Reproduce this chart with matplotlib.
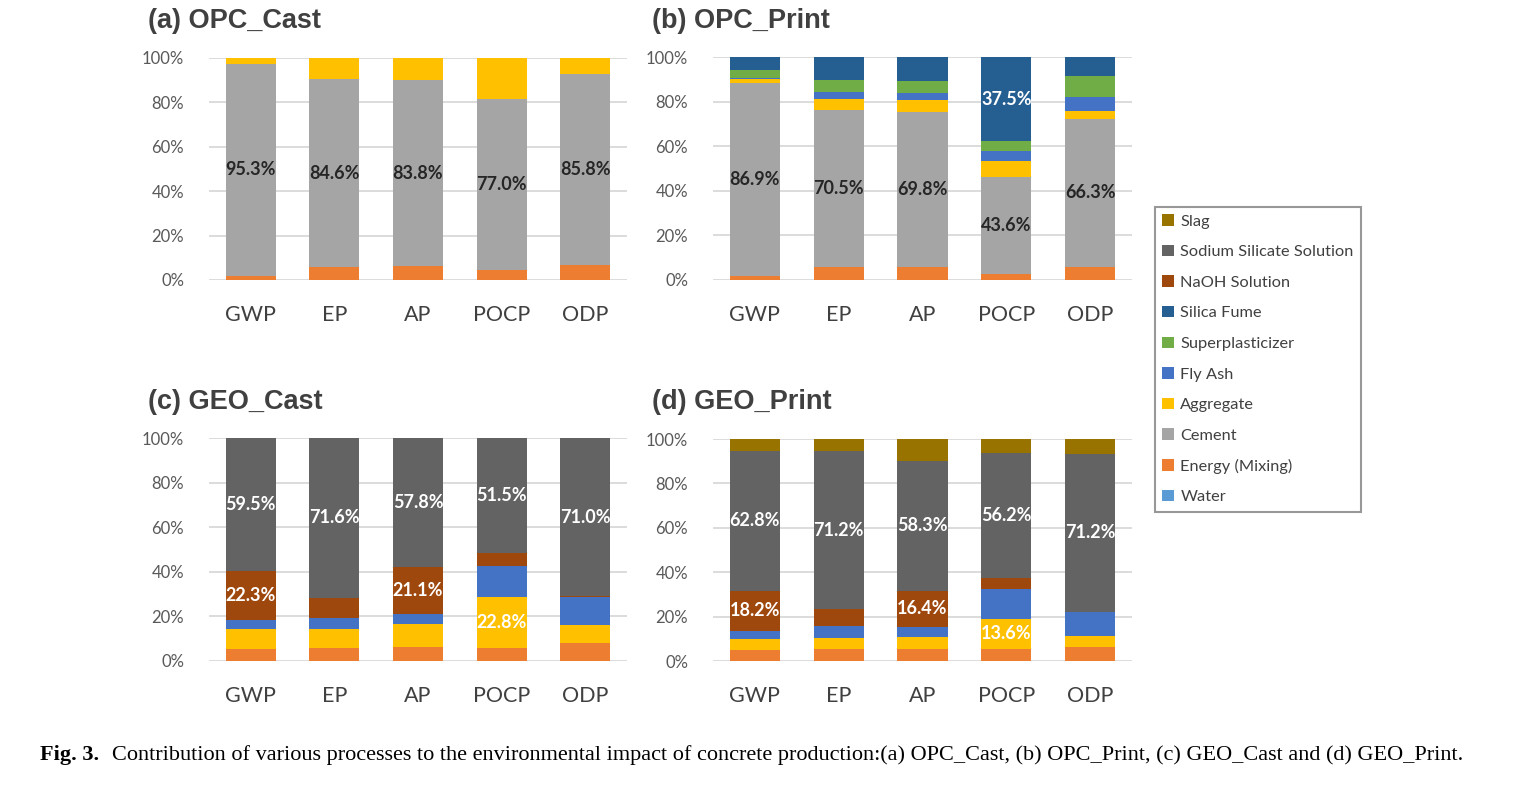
import matplotlib
matplotlib.use("Agg")
import matplotlib.pyplot as plt
from matplotlib.patches import Patch

W, H = 1513, 787

categories = ["GWP", "EP", "AP", "POCP", "ODP"]
y_ticks = [0, 20, 40, 60, 80, 100]

# stacking order, bottom to top
components = ["Water", "Energy (Mixing)", "Cement", "Aggregate", "Fly Ash",
              "Superplasticizer", "Silica Fume", "NaOH Solution",
              "Sodium Silicate Solution", "Slag"]
colors = {
    "Water": "#5B9BD5",
    "Energy (Mixing)": "#ED7D31",
    "Cement": "#A5A5A5",
    "Aggregate": "#FFC000",
    "Fly Ash": "#4472C4",
    "Superplasticizer": "#70AD47",
    "Silica Fume": "#255E91",
    "NaOH Solution": "#9E480E",
    "Sodium Silicate Solution": "#636363",
    "Slag": "#997300",
}

# percentage shares
opc_cast = {
    "Energy (Mixing)": [1.9, 5.8, 6.2, 4.3, 6.9],
    "Cement": [95.3, 84.6, 83.8, 77.0, 85.8],
    "Aggregate": [2.8, 9.6, 10.0, 18.7, 7.3],
}
opc_print = {
    "Energy (Mixing)": [1.7, 5.8, 5.8, 2.8, 6.0],
    "Cement": [86.9, 70.5, 69.8, 43.6, 66.3],
    "Aggregate": [1.8, 4.8, 5.2, 7.0, 3.6],
    "Fly Ash": [0.5, 3.5, 3.2, 4.6, 6.1],
    "Superplasticizer": [3.4, 5.2, 5.4, 4.5, 9.6],
    "Silica Fume": [5.7, 10.2, 10.6, 37.5, 8.4],
}
geo_cast = {
    "Energy (Mixing)": [5.4, 5.5, 6.3, 5.7, 7.8],
    "Aggregate": [8.8, 8.6, 10.2, 22.8, 8.1],
    "Fly Ash": [4.0, 4.9, 4.6, 14.2, 12.7],
    "NaOH Solution": [22.3, 9.4, 21.1, 5.8, 0.4],
    "Sodium Silicate Solution": [59.5, 71.6, 57.8, 51.5, 71.0],
}
geo_print = {
    "Energy (Mixing)": [4.8, 5.4, 5.6, 5.4, 6.5],
    "Aggregate": [5.1, 5.1, 5.3, 13.6, 4.6],
    "Fly Ash": [3.6, 5.1, 4.4, 13.4, 10.8],
    "NaOH Solution": [18.2, 7.7, 16.4, 5.0, 0.3],
    "Sodium Silicate Solution": [62.8, 71.2, 58.3, 56.2, 71.2],
    "Slag": [5.5, 5.5, 10.0, 6.4, 6.6],
}

# which segments carry a value label: component -> category indices
opc_cast_labels = {"Cement": [0, 1, 2, 3, 4]}
opc_print_labels = {"Cement": [0, 1, 2, 3, 4], "Silica Fume": [3]}
geo_cast_labels = {"Sodium Silicate Solution": [0, 1, 2, 3, 4],
                   "NaOH Solution": [0, 2], "Aggregate": [3]}
geo_print_labels = {"Sodium Silicate Solution": [0, 1, 2, 3, 4],
                    "NaOH Solution": [0, 2], "Aggregate": [3]}

plt.rcParams["font.family"] = ["Lato", "DejaVu Sans"]

fig = plt.figure(figsize=(W / 100, H / 100), dpi=100)


def px_axes(x0, y_top, x1, y_bot):
    return fig.add_axes([x0 / W, 1 - y_bot / H, (x1 - x0) / W, (y_bot - y_top) / H])


def draw_panel(ax, data, labels, title, dark_label):
    x = list(range(len(categories)))
    bottom = [0.0] * len(categories)
    for comp in components:
        if comp not in data:
            continue
        vals = data[comp]
        ax.bar(x, vals, width=0.6, bottom=bottom, color=colors[comp], zorder=3)
        for i in labels.get(comp, []):
            c = "#262626" if (dark_label and comp != "Silica Fume") else "white"
            ax.text(i, bottom[i] + vals[i] / 2, f"{vals[i]:.1f}%", ha="center",
                    va="center", fontsize=13, fontweight="bold", color=c, zorder=4)
        bottom = [b + v for b, v in zip(bottom, vals)]
    ax.set_xlim(-0.5, len(categories) - 0.5)
    ax.set_ylim(0, 100)
    ax.set_yticks(y_ticks)
    ax.set_yticklabels([f"{t}%" for t in y_ticks])
    ax.set_xticks(x)
    ax.set_xticklabels(categories)
    ax.tick_params(axis="y", length=0, pad=18, labelsize=12, labelcolor="#595959")
    ax.tick_params(axis="x", length=0, pad=18, labelsize=15.5, labelcolor="#404040")
    for s in ax.spines.values():
        s.set_visible(False)
    ax.grid(axis="y", color="#D9D9D9", linewidth=1.3, zorder=0)
    ax.set_axisbelow(True)
    ax.text(-0.146, 1.165, title, transform=ax.transAxes, fontsize=19.5,
            fontweight="bold", color="#404040", family="Liberation Sans",
            ha="left", va="center")


ax_a = px_axes(209, 57.7, 627, 280)
ax_b = px_axes(713, 57.3, 1132, 280)
ax_c = px_axes(209, 438.3, 627, 660.7)
ax_d = px_axes(713, 439, 1132, 661)

draw_panel(ax_a, opc_cast, opc_cast_labels, "(a) OPC_Cast", True)
draw_panel(ax_b, opc_print, opc_print_labels, "(b) OPC_Print", True)
draw_panel(ax_c, geo_cast, geo_cast_labels, "(c) GEO_Cast", False)
draw_panel(ax_d, geo_print, geo_print_labels, "(d) GEO_Print", False)

handles = [Patch(facecolor=colors[c], label=c) for c in reversed(components)]
leg = fig.legend(handles=handles, loc="upper left",
                 bbox_to_anchor=(1155 / W, 1 - 207 / H), borderaxespad=0,
                 frameon=True, fontsize=11.8, handlelength=0.7, handleheight=0.7,
                 handletextpad=0.4, labelspacing=0.98, borderpad=0.45,
                 fancybox=False, labelcolor="#404040")
leg.get_frame().set_edgecolor("#7F7F7F")
leg.get_frame().set_linewidth(1.5)

# caption below the panels
fig.text(40 / W, 1 - 755 / H, "Fig. 3.", fontsize=16, fontweight="bold",
         family="Liberation Serif", ha="left", va="center")
fig.text(112 / W, 1 - 755 / H,
         "Contribution of various processes to the environmental impact of concrete "
         "production:(a) OPC_Cast, (b) OPC_Print, (c) GEO_Cast and (d) GEO_Print.",
         fontsize=16, family="Liberation Serif", ha="left", va="center")

fig.savefig("out.png", dpi=100)
